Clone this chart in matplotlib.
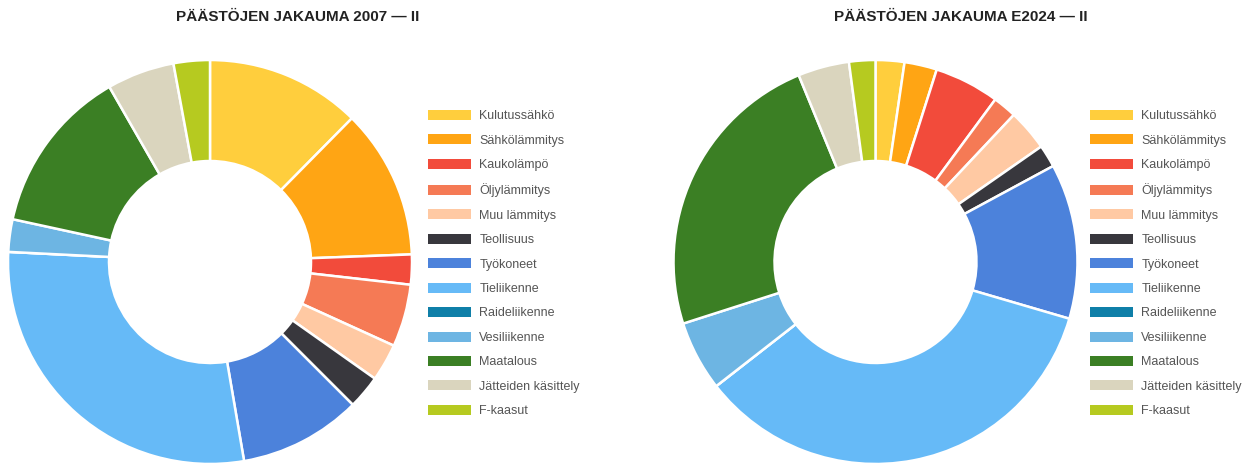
import matplotlib
matplotlib.use("Agg")
import matplotlib.pyplot as plt
from matplotlib.patches import Patch

plt.rcParams['font.family'] = ['Liberation Sans', 'DejaVu Sans']

categories = ["Kulutussähkö", "Sähkölämmitys", "Kaukolämpö", "Öljylämmitys",
              "Muu lämmitys", "Teollisuus", "Työkoneet", "Tieliikenne",
              "Raideliikenne", "Vesiliikenne", "Maatalous",
              "Jätteiden käsittely", "F-kaasut"]
values_2007 = [12.4, 12.0, 2.4, 5.0, 3.0, 2.7, 9.8, 28.5, 0.0, 2.6, 13.3, 5.4, 2.9]
values_2024 = [2.3, 2.6, 5.2, 1.9, 3.3, 1.8, 12.4, 34.9, 0.0, 5.6, 23.7, 4.1, 2.1]
titles = ["PÄÄSTÖJEN JAKAUMA 2007 — II", "PÄÄSTÖJEN JAKAUMA E2024 — II"]
colors = ["#FFCE3D", "#FFA514", "#F24B3B", "#F57A55", "#FFC9A3", "#38373D",
          "#4C82DB", "#66BAF7", "#0F7FA8", "#6DB5E3", "#3B7F24", "#DAD5BE", "#B6CA20"]

W, H = 1255, 467
fig = plt.figure(figsize=(W / 100, H / 100), dpi=100)

def px_axes(cx, cy, r):
    return fig.add_axes([(cx - r) / W, (H - cy - r) / H, 2 * r / W, 2 * r / H])

layout = [
    dict(cx=210, cy=262, r=204, title_x=298, leg_x=428),
    dict(cx=875.5, cy=262, r=204, title_x=961, leg_x=1090),
]

for vals, title, lay in zip([values_2007, values_2024], titles, layout):
    ax = px_axes(lay["cx"], lay["cy"], lay["r"])
    ax.pie(vals, colors=colors, startangle=90, counterclock=False, radius=1.0,
           wedgeprops=dict(width=0.5, edgecolor="white", linewidth=1.8))
    ax.set_xlim(-1.01, 1.01)
    ax.set_ylim(-1.01, 1.01)
    ax.set_aspect("equal")
    ax.axis("off")
    fig.text(lay["title_x"] / W, 1 - 17 / H, title, ha="center", va="center",
             fontsize=11, fontweight="bold", color="#222222")
    handles = [Patch(facecolor=c, edgecolor="none") for c in colors]
    fig.legend(handles, categories, loc="upper left",
               bbox_to_anchor=(lay["leg_x"] / W, 1 - 110 / H),
               frameon=False, fontsize=9, handlelength=3.4, handleheight=0.85,
               labelspacing=0.97, handletextpad=0.7, borderpad=0, borderaxespad=0,
               labelcolor="#555555")

fig.savefig("out.png", dpi=100)
